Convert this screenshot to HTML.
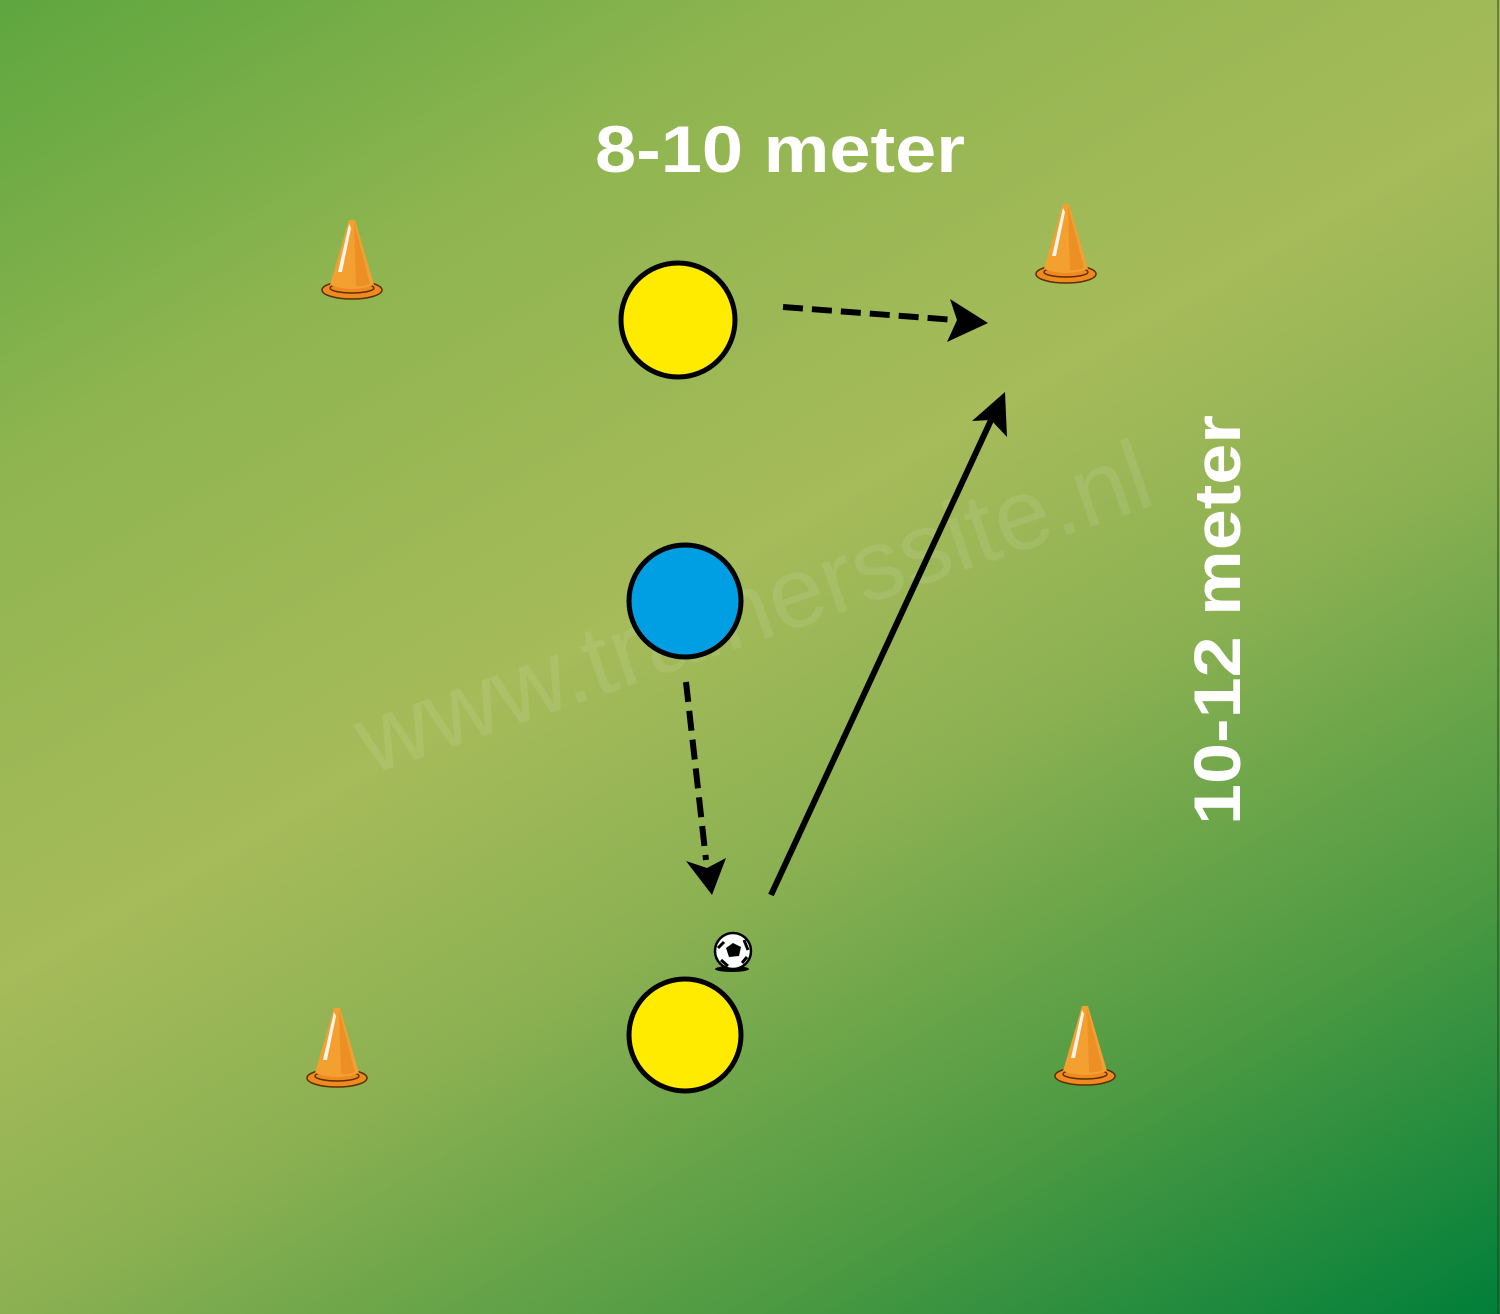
<!DOCTYPE html>
<html><head><style>
html,body{margin:0;padding:0}
body{width:1500px;height:1314px;overflow:hidden;background:linear-gradient(150deg,#5ea63f 0%,#8fb550 22%,#a6bb5a 45%,#8cb152 60%,#4d9a42 80%,#007f3a 100%);}
</style></head><body>
<svg width="1500" height="1314" style="position:absolute;left:0;top:0">
<defs>
<g id="cone">
<ellipse cx="0" cy="0" rx="30" ry="9" fill="#f08a1f" stroke="#5a3000" stroke-width="1.5"/>
<ellipse cx="0" cy="-2" rx="22" ry="5" fill="none" stroke="#5a3000" stroke-width="1.5"/>
<path d="M-3,-70 L3,-70 L22,-5 Q0,3 -22,-5 Z" fill="#f4a030"/>
<path d="M2,-68 L18,-6 Q10,-3 4,-4 Z" fill="#e88820" opacity="0.7"/>
<path d="M-3,-66 L-14,-18 L-10,-18 L-1,-62 Z" fill="#fff" opacity="0.9"/>
</g>
</defs>
<text x="0" y="0" transform="translate(370,775) rotate(-19)" font-family="Liberation Sans,sans-serif" font-size="100" fill="#ffffff" fill-opacity="0.09">www.trainerssite.nl</text>
<use href="#cone" x="352" y="290"/>
<use href="#cone" x="1066" y="274"/>
<use href="#cone" x="337" y="1078"/>
<use href="#cone" x="1085" y="1076"/>
<text x="595" y="172" textLength="370" lengthAdjust="spacingAndGlyphs" font-family="Liberation Sans,sans-serif" font-weight="bold" font-size="66" fill="#fff">8-10 meter</text>
<text x="0" y="0" transform="translate(1240,825) rotate(-90)" textLength="410" lengthAdjust="spacingAndGlyphs" font-family="Liberation Sans,sans-serif" font-weight="bold" font-size="66" fill="#fff">10-12 meter</text>
<line x1="783" y1="307" x2="955" y2="320" stroke="#000" stroke-width="6" stroke-dasharray="20,9"/>
<path d="M988,323 L947,342 L957,320 L950,299 Z" fill="#000"/>
<line x1="686" y1="682" x2="706" y2="860" stroke="#000" stroke-width="6" stroke-dasharray="20,9"/>
<path d="M712,895 L686,861 L707,868 L726,858 Z" fill="#000"/>
<line x1="771" y1="895" x2="992" y2="418" stroke="#000" stroke-width="6"/>
<path d="M1005,392 L1007,437 L991,420 L972,421 Z" fill="#000"/>
<circle cx="678" cy="320" r="57" fill="#ffeb00" stroke="#000" stroke-width="5"/>
<circle cx="685" cy="601" r="56" fill="#009fe3" stroke="#000" stroke-width="5"/>
<circle cx="685" cy="1035" r="56" fill="#ffeb00" stroke="#000" stroke-width="5"/>
<ellipse cx="732" cy="969" rx="17" ry="3" fill="#000"/>
<circle cx="733" cy="951" r="18" fill="#fff" stroke="#000" stroke-width="2.5"/>
<path d="M733,943 L741,947 L739,956 L729,957 L726,948 Z" fill="#000"/>
<path d="M718,948 L724,942 M721,960 L728,966 M744,940 L748,950 M742,963 L747,957" stroke="#000" stroke-width="3"/>
<line x1="1498" y1="0" x2="1498" y2="1314" stroke="#2a3a20" stroke-width="1.5" opacity="0.6"/>
</svg>
</body></html>
